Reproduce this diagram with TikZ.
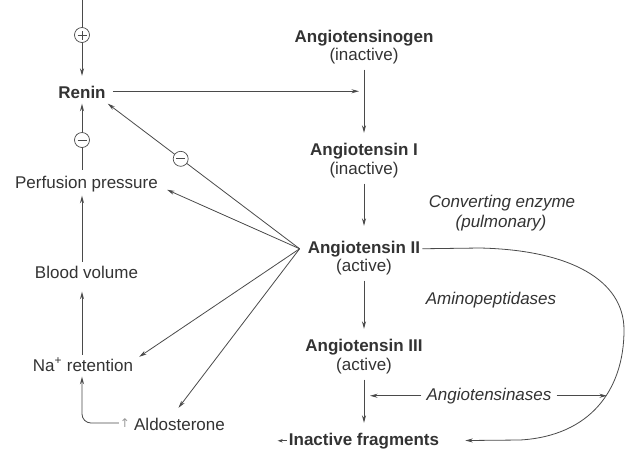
\documentclass[tikz,border=0pt]{standalone}
\usepackage{fontspec}
\setmainfont{Liberation Sans}
\newfontfamily\symfont{DejaVu Sans}
\usetikzlibrary{arrows.meta,calc}
\definecolor{txtclr}{HTML}{333333}
\definecolor{lineclr}{HTML}{4A4A4A}
\definecolor{faint}{HTML}{9A9A9A}
\begin{document}
\begin{tikzpicture}[x=1pt,y=-1pt,
  ink/.style={draw=lineclr, line width=0.8pt},
  arr/.style={ink,-{Stealth[length=7.5pt,width=4pt]}},
  chain/.style={arr, shorten <=4pt, shorten >=8pt},
  lbl/.style={text=txtclr, font=\fontsize{17}{20}\selectfont, inner sep=2pt,
    text height=12pt, text depth=3.5pt},
  blbl/.style={lbl, font=\fontsize{17}{20}\selectfont\bfseries},
  ilbl/.style={lbl, font=\fontsize{17}{20}\selectfont\itshape},
  sign/.style={circle, draw=lineclr, line width=0.7pt, fill=white,
    minimum size=15pt, inner sep=0pt},
  minussign/.style={sign, path picture={
    \draw[lineclr, line width=1pt]
      ([xshift=-4.5pt]path picture bounding box.center) --
      ([xshift=4.5pt]path picture bounding box.center);}},
  plussign/.style={sign, path picture={
    \draw[lineclr, line width=0.8pt]
      ([xshift=-4.5pt]path picture bounding box.center) --
      ([xshift=4.5pt]path picture bounding box.center)
      ([yshift=-4.5pt]path picture bounding box.center) --
      ([yshift=4.5pt]path picture bounding box.center);}}
]
\useasboundingbox (0,0) rectangle (626,456);
\fill[white] (0,0) rectangle (626,456);

% feedback column
\node[blbl] (renin) at (82,93.75) {Renin};
\node[lbl] (perf) at (86.5,183.75) {Perfusion pressure};
\node[lbl] (blood) at (86.5,273.75) {Blood volume};
\node[lbl] (nar) at (83,366.75) {Na\textsuperscript{+} retention};
\node[lbl] (ald) at (179.5,425.75) {Aldosterone};
\node[text=faint, font=\symfont\fontsize{12}{12}\selectfont, inner sep=1pt]
  (up) at (125,423) {↑};

% angiotensin cascade
\node[blbl] (agn) at (364,37.75) {Angiotensinogen};
\node[lbl] (agns) at (364,55.75) {(inactive)};
\node[blbl] (ang1) at (364,150.75) {Angiotensin I};
\node[lbl] (ang1s) at (364,169.75) {(inactive)};
\node[blbl] (ang2) at (364,248.75) {Angiotensin II};
\node[lbl] (ang2s) at (364,266.75) {(active)};
\node[blbl] (ang3) at (364,346.75) {Angiotensin III};
\node[lbl] (ang3s) at (364,365.75) {(active)};
\node[blbl] (frag) at (364,440.75) {Inactive fragments};

% enzymes
\node[ilbl] (ce1) at (502,203) {Converting enzyme};
\node[ilbl] (ce2) at (501,223) {(pulmonary)};
\node[ilbl] (amp) at (491,299.75) {Aminopeptidases};
\node[ilbl] (ases) at (489,395.75) {Angiotensinases};

% left column arrows
\coordinate (top) at (renin.north |- 0,0);
\draw[arr, shorten >=8pt] (top) -- (renin.north);
\node[plussign] (s1) at (renin.north |- 0,35) {};
\draw[arr, shorten <=4pt] (renin.south |- perf.north) -- (renin.south);
\node[minussign] (s2) at (renin.south |- 0,140) {};
\draw[arr, shorten <=2pt, shorten >=2pt] (renin.south |- blood.north) -- (renin.south |- perf.south);
\draw[arr, shorten <=2pt, shorten >=8pt] (renin.south |- nar.north) -- (renin.south |- blood.south);
\draw[arr, rounded corners=9pt] (up.west) -- (renin.south |- up.west) -- (renin.south |- nar.south);

% renin acts on angiotensinogen
\coordinate (rn) at ($(renin.east)+(0,-2.5)$);
\draw[arr, shorten <=5pt, shorten >=5pt] (rn) -- (rn -| agn);

% cascade
\draw[chain] (agns) -- (ang1);
\draw[chain, shorten >=13pt] (ang1s) -- (ang2);
\draw[chain] (ang2s) -- (ang3);
\draw[chain] (ang3s) -- (frag);

% angiotensinases
\coordinate (aL) at (ang3s |- ases);
\coordinate (aR) at (607,395.75);
\draw[arr, shorten <=3pt, shorten >=6pt] (ases.west) -- (aL);
\draw[arr, shorten <=3pt] (ases.east) -- (aR);

% effects of angiotensin II
\coordinate (hub) at ($(ang2.west)+(-6,0)$);
\draw[arr] (hub) -- (renin.south east);
\node[minussign] (s3) at ($(hub)!0.62!(renin.south east)$) {};
\draw[arr] (hub) -- ($(perf.east)+(7,6)$);
\draw[arr] (hub) -- ($(nar.north east)+(4,0)$);
\draw[arr] (hub) -- ($(ald.north)+(-1,-8)$);

% direct breakdown of angiotensin II
\draw[arr, shorten >=24pt] (ang2.east) -- (480,248)
  .. controls (570,250) and (624,280) .. (624,330)
  .. controls (624,390) and (590,436) .. (520,440) -- (frag.east);
\draw[ink, -{Stealth[length=5pt,width=3.5pt]}] (frag.west) -- ++(-9,0);
\end{tikzpicture}
\end{document}
